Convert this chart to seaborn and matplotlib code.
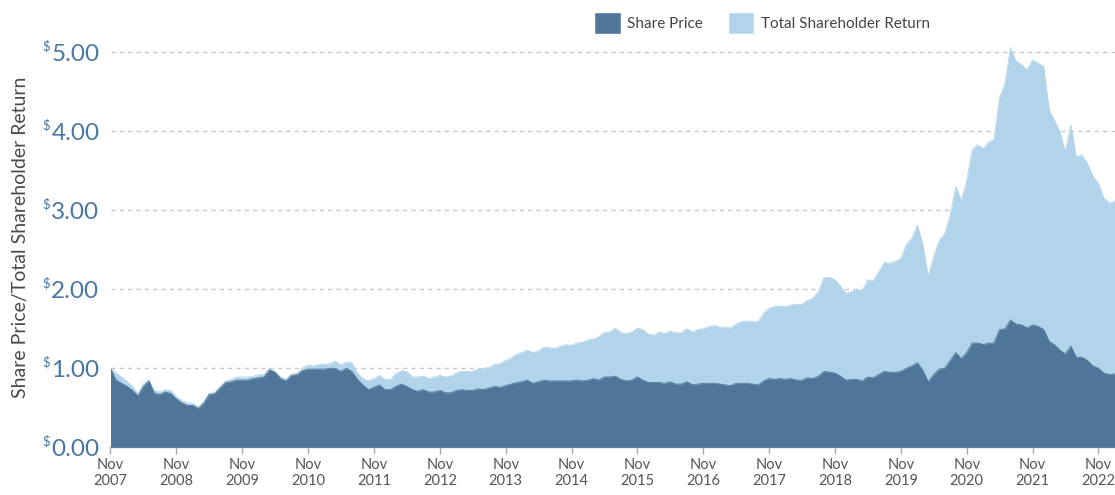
import pandas as pd
import matplotlib
matplotlib.use("Agg")
import matplotlib.pyplot as plt
from matplotlib.patches import Patch
import seaborn as sns

# monthly values, each row runs Nov -> Oct
share_price = [
    1.00, 0.85, 0.81, 0.77, 0.72, 0.65, 0.77, 0.84, 0.68, 0.67, 0.70, 0.68,  # Nov07
    0.61, 0.56, 0.53, 0.53, 0.49, 0.56, 0.67, 0.68, 0.75, 0.82, 0.83, 0.85,  # Nov08
    0.85, 0.85, 0.87, 0.88, 0.89, 0.98, 0.95, 0.87, 0.84, 0.91, 0.92, 0.97,  # Nov09
    0.99, 0.99, 0.99, 0.99, 1.00, 1.00, 0.96, 1.00, 0.96, 0.86, 0.79, 0.73,  # Nov10
    0.76, 0.79, 0.73, 0.73, 0.77, 0.80, 0.77, 0.73, 0.71, 0.73, 0.70, 0.70,  # Nov11
    0.72, 0.69, 0.69, 0.72, 0.73, 0.72, 0.72, 0.74, 0.73, 0.75, 0.77, 0.76,  # Nov12
    0.78, 0.80, 0.82, 0.83, 0.85, 0.81, 0.83, 0.85, 0.84, 0.84, 0.84, 0.84,  # Nov13
    0.84, 0.85, 0.84, 0.85, 0.87, 0.85, 0.89, 0.89, 0.90, 0.86, 0.84, 0.85,  # Nov14
    0.89, 0.85, 0.82, 0.82, 0.82, 0.81, 0.83, 0.80, 0.80, 0.83, 0.79, 0.80,  # Nov15
    0.81, 0.81, 0.81, 0.80, 0.79, 0.78, 0.81, 0.81, 0.81, 0.80, 0.79, 0.84,  # Nov16
    0.87, 0.86, 0.87, 0.86, 0.87, 0.85, 0.85, 0.88, 0.87, 0.90, 0.96, 0.95,  # Nov17
    0.94, 0.90, 0.85, 0.86, 0.86, 0.84, 0.89, 0.88, 0.92, 0.96, 0.95, 0.95,  # Nov18
    0.96, 1.00, 1.03, 1.07, 0.98, 0.83, 0.92, 0.99, 1.00, 1.10, 1.20, 1.12,  # Nov19
    1.20, 1.32, 1.32, 1.30, 1.32, 1.32, 1.49, 1.50, 1.61, 1.56, 1.55, 1.51,  # Nov20
    1.55, 1.53, 1.49, 1.34, 1.30, 1.23, 1.18, 1.28, 1.14, 1.14, 1.10, 1.03,  # Nov21
    1.00, 0.94, 0.92, 0.93,                                                  # Nov22
]
total_return = [
    1.00, 0.94, 0.89, 0.83, 0.77, 0.68, 0.80, 0.85, 0.72, 0.70, 0.73, 0.72,
    0.64, 0.59, 0.56, 0.56, 0.51, 0.57, 0.68, 0.69, 0.77, 0.84, 0.86, 0.89,
    0.89, 0.89, 0.90, 0.92, 0.92, 1.00, 0.96, 0.89, 0.86, 0.93, 0.93, 1.01,
    1.04, 1.03, 1.05, 1.05, 1.06, 1.09, 1.04, 1.08, 1.07, 0.94, 0.87, 0.84,
    0.87, 0.91, 0.86, 0.86, 0.93, 0.97, 0.96, 0.89, 0.89, 0.90, 0.87, 0.89,
    0.91, 0.89, 0.90, 0.94, 0.96, 0.96, 0.96, 0.99, 1.00, 1.01, 1.05, 1.06,
    1.10, 1.13, 1.18, 1.20, 1.23, 1.20, 1.22, 1.27, 1.26, 1.25, 1.28, 1.30,
    1.29, 1.32, 1.33, 1.36, 1.37, 1.40, 1.45, 1.46, 1.51, 1.45, 1.44, 1.46,
    1.51, 1.49, 1.43, 1.42, 1.46, 1.44, 1.47, 1.45, 1.45, 1.50, 1.46, 1.49,
    1.50, 1.53, 1.54, 1.52, 1.52, 1.51, 1.56, 1.59, 1.60, 1.59, 1.59, 1.70,
    1.76, 1.78, 1.79, 1.78, 1.80, 1.81, 1.81, 1.86, 1.89, 1.97, 2.15, 2.15,
    2.12, 2.04, 1.95, 1.97, 2.00, 1.98, 2.12, 2.11, 2.22, 2.34, 2.33, 2.35,
    2.39, 2.56, 2.65, 2.81, 2.58, 2.17, 2.41, 2.62, 2.70, 2.94, 3.30, 3.13,
    3.38, 3.77, 3.83, 3.78, 3.86, 3.90, 4.42, 4.61, 5.06, 4.89, 4.84, 4.78,
    4.90, 4.86, 4.82, 4.27, 4.14, 4.00, 3.74, 4.08, 3.68, 3.70, 3.59, 3.43,
    3.34, 3.15, 3.09, 3.12,
]
y_ticks = [0, 1, 2, 3, 4, 5]
tick_years = list(range(2007, 2023))

months = pd.date_range("2007-11-01", periods=len(share_price), freq="MS")
df = pd.DataFrame({"month": months, "price": share_price, "tsr": total_return})

dark = "#4f7599"
light = "#b2d4ea"
blue_text = "#4a77a3"

sns.set_theme(style="white")
plt.rcParams["font.family"] = ["Lato", "DejaVu Sans"]

fig = plt.figure(figsize=(11.15, 4.95), dpi=100)
ax = fig.add_axes([110.5 / 1115, 47.7 / 495, 1 - 110.5 / 1115, 406.9 / 495])

ax.fill_between(df["month"], df["tsr"], color=light, lw=0, zorder=2)
sns.lineplot(data=df, x="month", y="tsr", color=light, lw=0.6, ax=ax, zorder=2)
ax.fill_between(df["month"], df["price"], color=dark, lw=0, zorder=3)
sns.lineplot(data=df, x="month", y="price", color=dark, lw=0.6, ax=ax, zorder=3)

ax.set_xlim(months[0], months[-1])
ax.set_ylim(0, 5.15)

ax.set_yticks(y_ticks)
ax.set_yticklabels([f"{v:.2f}" for v in y_ticks], fontsize=17.5, color=blue_text)
ax.tick_params(axis="y", length=0, pad=8)
for v in y_ticks:
    ax.annotate(r"\$", xy=(0, v), xycoords=ax.get_yaxis_transform(),
                xytext=(-49, 4), textcoords="offset points",
                fontsize=9.5, color=blue_text, ha="left", va="center")

ax.set_xticks([pd.Timestamp(f"{y}-11-01") for y in tick_years])
ax.set_xticklabels([f"Nov\n{y}" for y in tick_years], fontsize=10.5, color="#555555",
                   linespacing=1.15)
ax.tick_params(axis="x", length=5, width=1, color="#aaaaaa", pad=3, bottom=True)

ax.grid(axis="y", linestyle=(0, (3, 3)), color="#c8c8c8", lw=1)
ax.grid(axis="x", visible=False)
ax.set_axisbelow(True)

for s in ["top", "right", "left"]:
    ax.spines[s].set_visible(False)
ax.spines["bottom"].set_color("#aaaaaa")
ax.spines["bottom"].set_linewidth(1)

ax.set_xlabel("")
ax.set_ylabel("Share Price/Total Shareholder Return", fontsize=14, color="#4a4a4a")
ax.yaxis.set_label_coords(-(110.5 - 29) / 1004.5, 0.517)

handles = [Patch(facecolor=dark, label="Share Price"),
           Patch(facecolor=light, label="Total Shareholder Return")]
leg = fig.legend(handles=handles, loc="center", bbox_to_anchor=(762 / 1115, 1 - 23 / 495),
                 ncol=2, frameon=False, fontsize=11, handlelength=1.75, handleheight=1.75,
                 handletextpad=0.45, columnspacing=1.6)
for t in leg.get_texts():
    t.set_color("#444444")

fig.savefig("out.png", dpi=100)
